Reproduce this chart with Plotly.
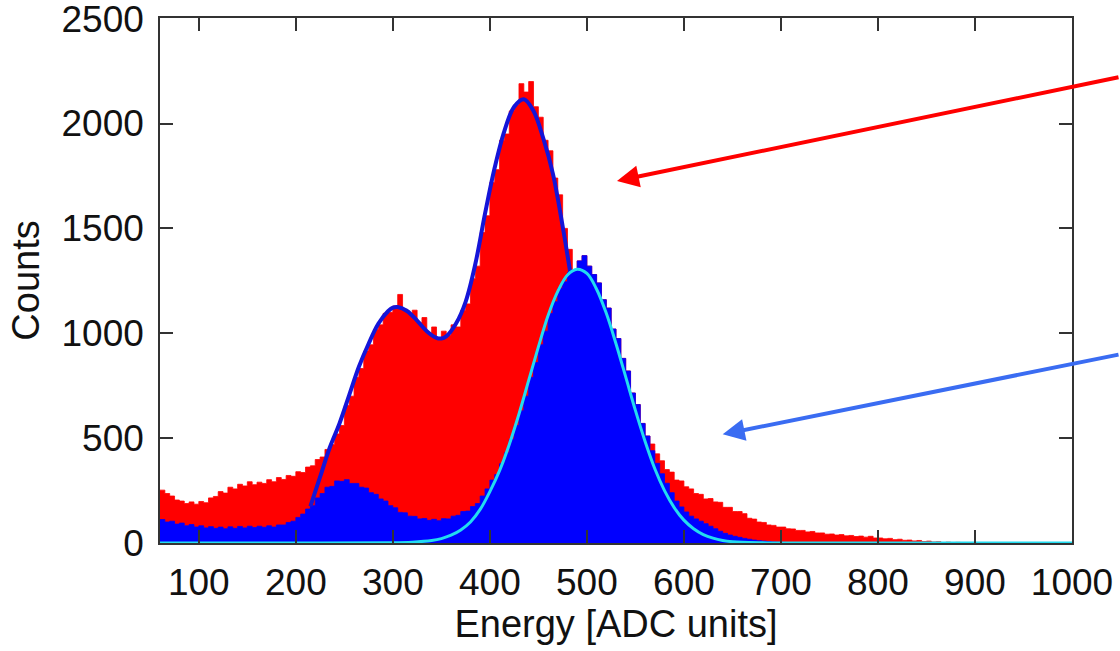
import plotly.graph_objects as go

# ---------------- data ----------------
# histogram bin left edges (5 ADC units wide)
red_edges = list(range(60, 900, 5))
red_counts = [
    252, 236, 224, 205, 200, 188, 196, 185, 198, 192,
    215, 222, 245, 238, 266, 258, 280, 272, 292, 278,
    290, 284, 302, 292, 312, 303, 322, 318, 340, 336,
    362, 368, 398, 410, 446, 470, 520, 560, 655, 700,
    790, 832, 915, 945, 1018, 1040, 1095, 1100, 1130, 1185,
    1115, 1095, 1110, 1050, 1075, 1000, 1030, 975, 1010, 990,
    1040, 1030, 1110, 1140, 1260, 1320, 1480, 1560, 1720, 1780,
    1920, 1950, 2060, 2090, 2190, 2150, 2200, 2080, 2030, 1920,
    1870, 1740, 1660, 1500, 1400, 1300, 1345, 1370, 1320, 1280,
    1240, 1160, 1120, 1020, 975, 880, 820, 715, 660, 570,
    510, 472, 425, 392, 350, 338, 300, 296, 268, 258,
    236, 232, 210, 212, 196, 194, 170, 170, 150, 150,
    140, 118, 114, 100, 98, 86, 84, 76, 76, 68,
    67, 60, 60, 53, 55, 48, 48, 42, 43, 38,
    40, 34, 36, 31, 33, 28, 32, 24, 24, 20,
    22, 16, 18, 13, 14, 10, 12, 7, 9, 5,
    6, 2, 4, 1, 3, 0, 2, 0,
]

blue_edges = list(range(60, 710, 5))
blue_counts = [
    112, 100, 104, 90, 95, 82, 88, 76, 82, 72,
    78, 70, 76, 68, 77, 70, 79, 72, 80, 74,
    80, 75, 82, 76, 86, 86, 98, 104, 122, 138,
    162, 178, 215, 236, 266, 270, 296, 294, 302, 284,
    284, 266, 262, 240, 232, 210, 200, 178, 168, 146,
    144, 128, 127, 115, 117, 108, 113, 106, 116, 115,
    128, 132, 150, 152, 174, 188, 224, 258, 300, 326,
    378, 430, 495, 560, 630, 700, 790, 860, 945, 1010,
    1095, 1150, 1215, 1245, 1290, 1300, 1345, 1370, 1320, 1280,
    1240, 1160, 1120, 1020, 975, 880, 820, 715, 660, 570,
    510, 440, 380, 330, 285, 240, 200, 172, 148, 128,
    115, 104, 92, 80, 68, 56, 46, 38, 32, 27,
    22, 18, 14, 11, 9, 7, 5, 4, 3, 2,
]

# total fit curve (dark blue)
fit_energy = [215, 225, 235, 245, 255, 265, 275, 285, 295, 300, 305, 315, 325,
              335, 345, 350, 355, 365, 375, 385, 395, 405, 415, 425, 435, 445,
              455, 465, 475, 483]
fit_counts = [175, 315, 455, 570, 705, 840, 950, 1045, 1105, 1122, 1125, 1105,
              1060, 1010, 978, 975, 985, 1045, 1150, 1330, 1570, 1790, 1965,
              2080, 2116, 2060, 1930, 1760, 1510, 1285]

# single-peak fit (cyan)
peak_energy = [60, 200, 300, 320, 340, 350, 360, 370, 380, 390, 400, 410, 420,
               430, 440, 450, 460, 470, 480, 490, 500, 510, 520, 530, 540, 550,
               560, 570, 580, 590, 600, 610, 620, 630, 640, 650, 660, 680, 700,
               800, 1000]
peak_counts = [0, 0, 1, 4, 12, 21, 37, 62, 100, 160, 245, 345, 470, 615, 775,
               935, 1085, 1200, 1278, 1305, 1285, 1210, 1095, 950, 792, 632, 484,
               354, 250, 169, 109, 68, 40, 23, 12, 6, 3, 1, 0, 0, 0]

x_ticks = [100, 200, 300, 400, 500, 600, 700, 800, 900, 1000]
y_ticks = [0, 500, 1000, 1500, 2000, 2500]

BIN = 5


def steps(edges, counts):
    xs = list(edges) + [edges[-1] + BIN]
    ys = list(counts) + [counts[-1]]
    return xs, ys


fig = go.Figure()

rx, ry = steps(red_edges, red_counts)
fig.add_trace(go.Scatter(x=rx, y=ry, mode="lines", line_shape="hv",
                         line=dict(color="#ff0000", width=0.8),
                         fill="tozeroy", fillcolor="#ff0000", hoverinfo="skip"))
bx, by = steps(blue_edges, blue_counts)
fig.add_trace(go.Scatter(x=bx, y=by, mode="lines", line_shape="hv",
                         line=dict(color="#0000ff", width=0.8),
                         fill="tozeroy", fillcolor="#0000ff", hoverinfo="skip"))
fig.add_trace(go.Scatter(x=fit_energy, y=fit_counts, mode="lines",
                         line_shape="spline",
                         line=dict(color="#1414d8", width=4)))
fig.add_trace(go.Scatter(x=peak_energy, y=peak_counts, mode="lines",
                         line_shape="spline",
                         line=dict(color="#22dcf0", width=3)))

axis_common = dict(
    showline=True, linecolor="#333333", linewidth=1.5, mirror="ticks",
    ticks="inside", ticklen=13, tickwidth=1.5, tickcolor="#333333",
    showgrid=False, zeroline=False, ticklabeloverflow="allow",
    automargin=False,
    tickfont=dict(size=37, color="#111111"),
)

fig.update_layout(
    width=1120, height=651,
    margin=dict(l=160, r=48, t=18, b=108),
    plot_bgcolor="white", paper_bgcolor="white",
    showlegend=False,
    font=dict(family="Liberation Sans, Arial, sans-serif", color="#111111"),
    xaxis=dict(range=[60, 1000], tickvals=x_ticks, ticklabelstandoff=6,
               title=dict(text="Energy [ADC units]", font=dict(size=38), standoff=6),
               **axis_common),
    yaxis=dict(range=[0, 2503], tickvals=y_ticks, ticklabelstandoff=7,
               title=dict(text="Counts", font=dict(size=38), standoff=10),
               **axis_common),
    annotations=[
        dict(x=531, y=1726, xref="x", yref="y", ax=515, ay=-104,
             text="", showarrow=True, arrowhead=2, arrowsize=1.1,
             arrowwidth=4, arrowcolor="#ff0000"),
        dict(x=640, y=518, xref="x", yref="y", ax=410, ay=-80,
             text="", showarrow=True, arrowhead=2, arrowsize=1.1,
             arrowwidth=4, arrowcolor="#3a6cf2"),
    ],
)

fig.write_html("out.html")
